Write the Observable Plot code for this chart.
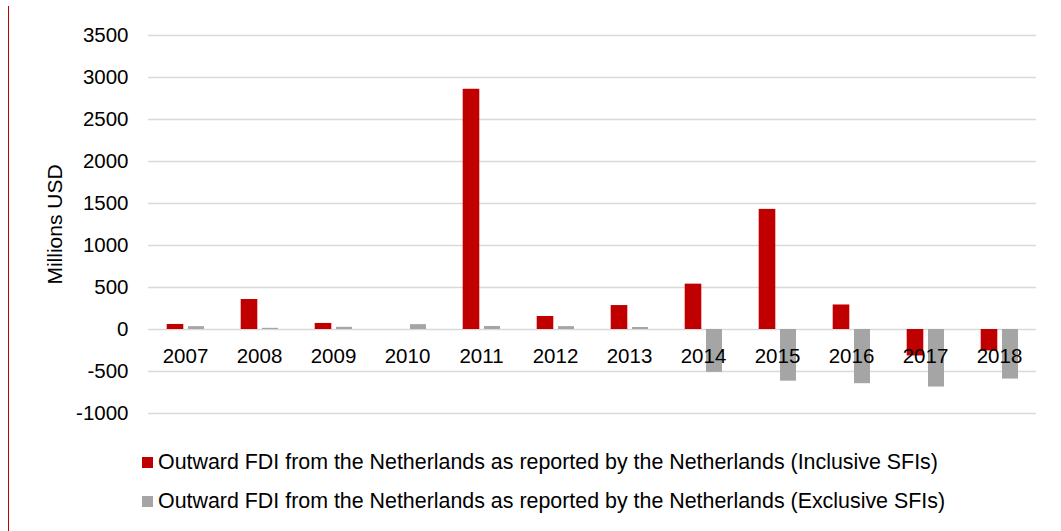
<!DOCTYPE html>
<html>
<head>
<meta charset="utf-8">
<script src="https://cdn.jsdelivr.net/npm/d3@7"></script>
<script src="https://cdn.jsdelivr.net/npm/@observablehq/plot@0.6"></script>
<style>
  html, body { margin: 0; padding: 0; background: #fff; }
  body { width: 1061px; height: 531px; position: relative; overflow: hidden; font-family: "Liberation Sans", Arial, sans-serif; }
  #redline { position: absolute; left: 8px; top: 6px; width: 1px; height: 525px; background: #C00000; }
  #chart { position: absolute; left: 0; top: 0; }
  .legend { position: absolute; left: 142px; font-size: 21.4px; color: #000; display: flex; align-items: center; white-space: nowrap; }
  .legend .sw { width: 11px; height: 11px; margin-right: 5px; display: inline-block; }
</style>
</head>
<body>
<div id="redline"></div>
<div id="chart"></div>
<div class="legend" id="leg1" style="top:450px"><span class="sw" style="background:#C00000"></span><span>Outward FDI from the Netherlands as reported by the Netherlands (Inclusive SFIs)</span></div>
<div class="legend" id="leg2" style="top:489px"><span class="sw" style="background:#A5A5A5"></span><span>Outward FDI from the Netherlands as reported by the Netherlands (Exclusive SFIs)</span></div>
<script>
const years = ["2007","2008","2009","2010","2011","2012","2013","2014","2015","2016","2017","2018"];
const inclusive = [60, 357, 72, 0, 2860, 155, 285, 540, 1430, 292, -315, -255];
const exclusive = [34, 14, 26, 58, 36, 34, 24, -510, -615, -645, -685, -590];
const yTicks = [-1000, -500, 0, 500, 1000, 1500, 2000, 2500, 3000, 3500];
const yLabel = "Millions USD";

const incData = years.map((y, i) => ({year: y, value: inclusive[i]}));
const excData = years.map((y, i) => ({year: y, value: exclusive[i]}));

const chart = Plot.plot({
  width: 1061,
  height: 430,
  marginLeft: 148,
  marginRight: 25,
  marginTop: 35,
  marginBottom: 17,
  style: {fontFamily: "Liberation Sans, Arial, sans-serif", fontSize: "20px", color: "#000", background: "transparent"},
  x: {domain: years, padding: 0, axis: null},
  y: {domain: [-1000, 3500], ticks: yTicks, axis: null},
  marks: [
    Plot.ruleY(yTicks, {stroke: "#D9D9D9", strokeWidth: 1.5}),
    Plot.axisY({ticks: yTicks, tickSize: 0, tickPadding: 20, label: null, fontSize: 20.5, tickFormat: d => String(d)}),
    Plot.barY(incData, {x: "year", y: "value", fill: "#C00000", insetLeft: 18.7, insetRight: 38.7}),
    Plot.barY(excData, {x: "year", y: "value", fill: "#A5A5A5", insetLeft: 40, insetRight: 18}),
    Plot.text(years, {x: d => d, y: () => 0, text: d => d, dy: 27, fontSize: 20.5, fill: "#000"}),
    Plot.text([yLabel], {frameAnchor: "left", textAnchor: "middle", text: d => d, rotate: -90, dx: -93, fontSize: 21, fill: "#000"})
  ]
});
document.getElementById("chart").appendChild(chart);
</script>
</body>
</html>
